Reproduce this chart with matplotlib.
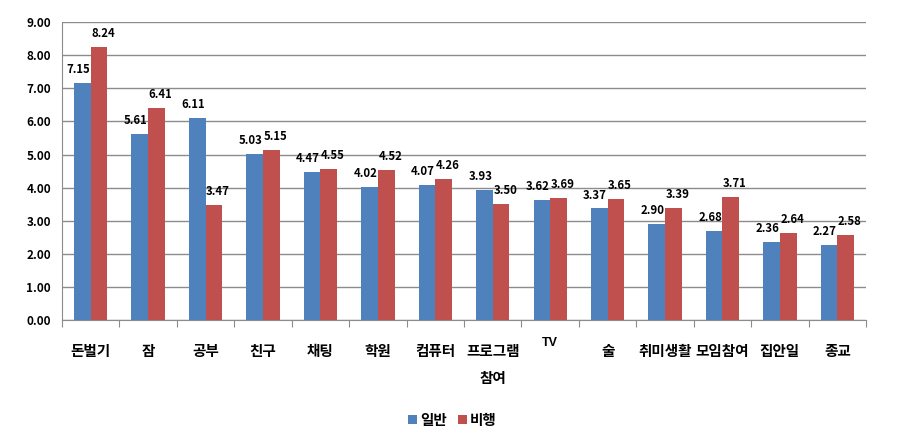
import matplotlib
matplotlib.use("Agg")
import matplotlib.pyplot as plt
import numpy as np

plt.rcParams["font.family"] = ["Noto Sans CJK KR", "DejaVu Sans"]

categories = ["돈벌기", "잠", "공부", "친구", "채팅", "학원", "컴퓨터",
              "프로그램\n참여", "TV", "술", "취미생활", "모임참여", "집안일", "종교"]
general = [7.15, 5.61, 6.11, 5.03, 4.47, 4.02, 4.07, 3.93, 3.62, 3.37, 2.90, 2.68, 2.36, 2.27]
delinquent = [8.24, 6.41, 3.47, 5.15, 4.55, 4.52, 4.26, 3.50, 3.69, 3.65, 3.39, 3.71, 2.64, 2.58]

BLUE = "#4F81BD"
RED = "#C0504D"
GRID = "#8C8C8C"

fig = plt.figure(figsize=(9.05, 4.43), dpi=100)
ax = fig.add_axes([0.0685, 0.2777, 0.8885, 0.6723])

x = np.arange(len(categories))
w = 0.29
ax.bar(x - w / 2, general, w, color=BLUE, label="일반", zorder=3)
ax.bar(x + w / 2, delinquent, w, color=RED, label="비행", zorder=3)

# value labels, nudged apart a little so neighbouring numbers do not collide
for xi, a, b in zip(x, general, delinquent):
    ax.annotate(f"{a:.2f}", (xi - w / 2, a), xytext=(-3, 5), textcoords="offset points",
                ha="center", va="bottom", fontsize=8.2, fontweight="bold")
    ax.annotate(f"{b:.2f}", (xi + w / 2, b), xytext=(3, 5), textcoords="offset points",
                ha="center", va="bottom", fontsize=8.2, fontweight="bold")

ax.set_xlim(-0.5, len(categories) - 0.5)
ax.set_ylim(0, 9)
ax.set_yticks(np.arange(0, 9.01, 1))
ax.set_yticklabels([f"{v:.2f}" for v in np.arange(0, 9.01, 1)], fontsize=8.5, fontweight="bold")
ax.yaxis.grid(True, color=GRID, linewidth=1, zorder=0)
ax.tick_params(axis="y", length=0, pad=8)

ax.set_xticks(np.arange(-0.5, len(categories)))
ax.set_xticklabels([])
ax.tick_params(axis="x", length=5, color=GRID, direction="out")
for xi, lab in zip(x, categories):
    if lab == "TV":
        ax.text(xi, -0.5, lab, ha="center", va="top", fontsize=9, fontweight="bold",
                family="Liberation Sans")
    else:
        ax.text(xi, -0.7, lab, ha="center", va="top", fontsize=10.5, fontweight="bold",
                linespacing=1.85)

for s in ["top", "right"]:
    ax.spines[s].set_visible(False)
ax.spines["left"].set_color(GRID)
ax.spines["bottom"].set_color(GRID)

fig.legend(loc="lower center", bbox_to_anchor=(0.5, 0.005), ncol=2, frameon=False,
           handlelength=0.6, handleheight=0.6, handletextpad=0.2, columnspacing=0.8,
           prop={"weight": "bold", "size": 10.5})

fig.savefig("out.png", dpi=100)
